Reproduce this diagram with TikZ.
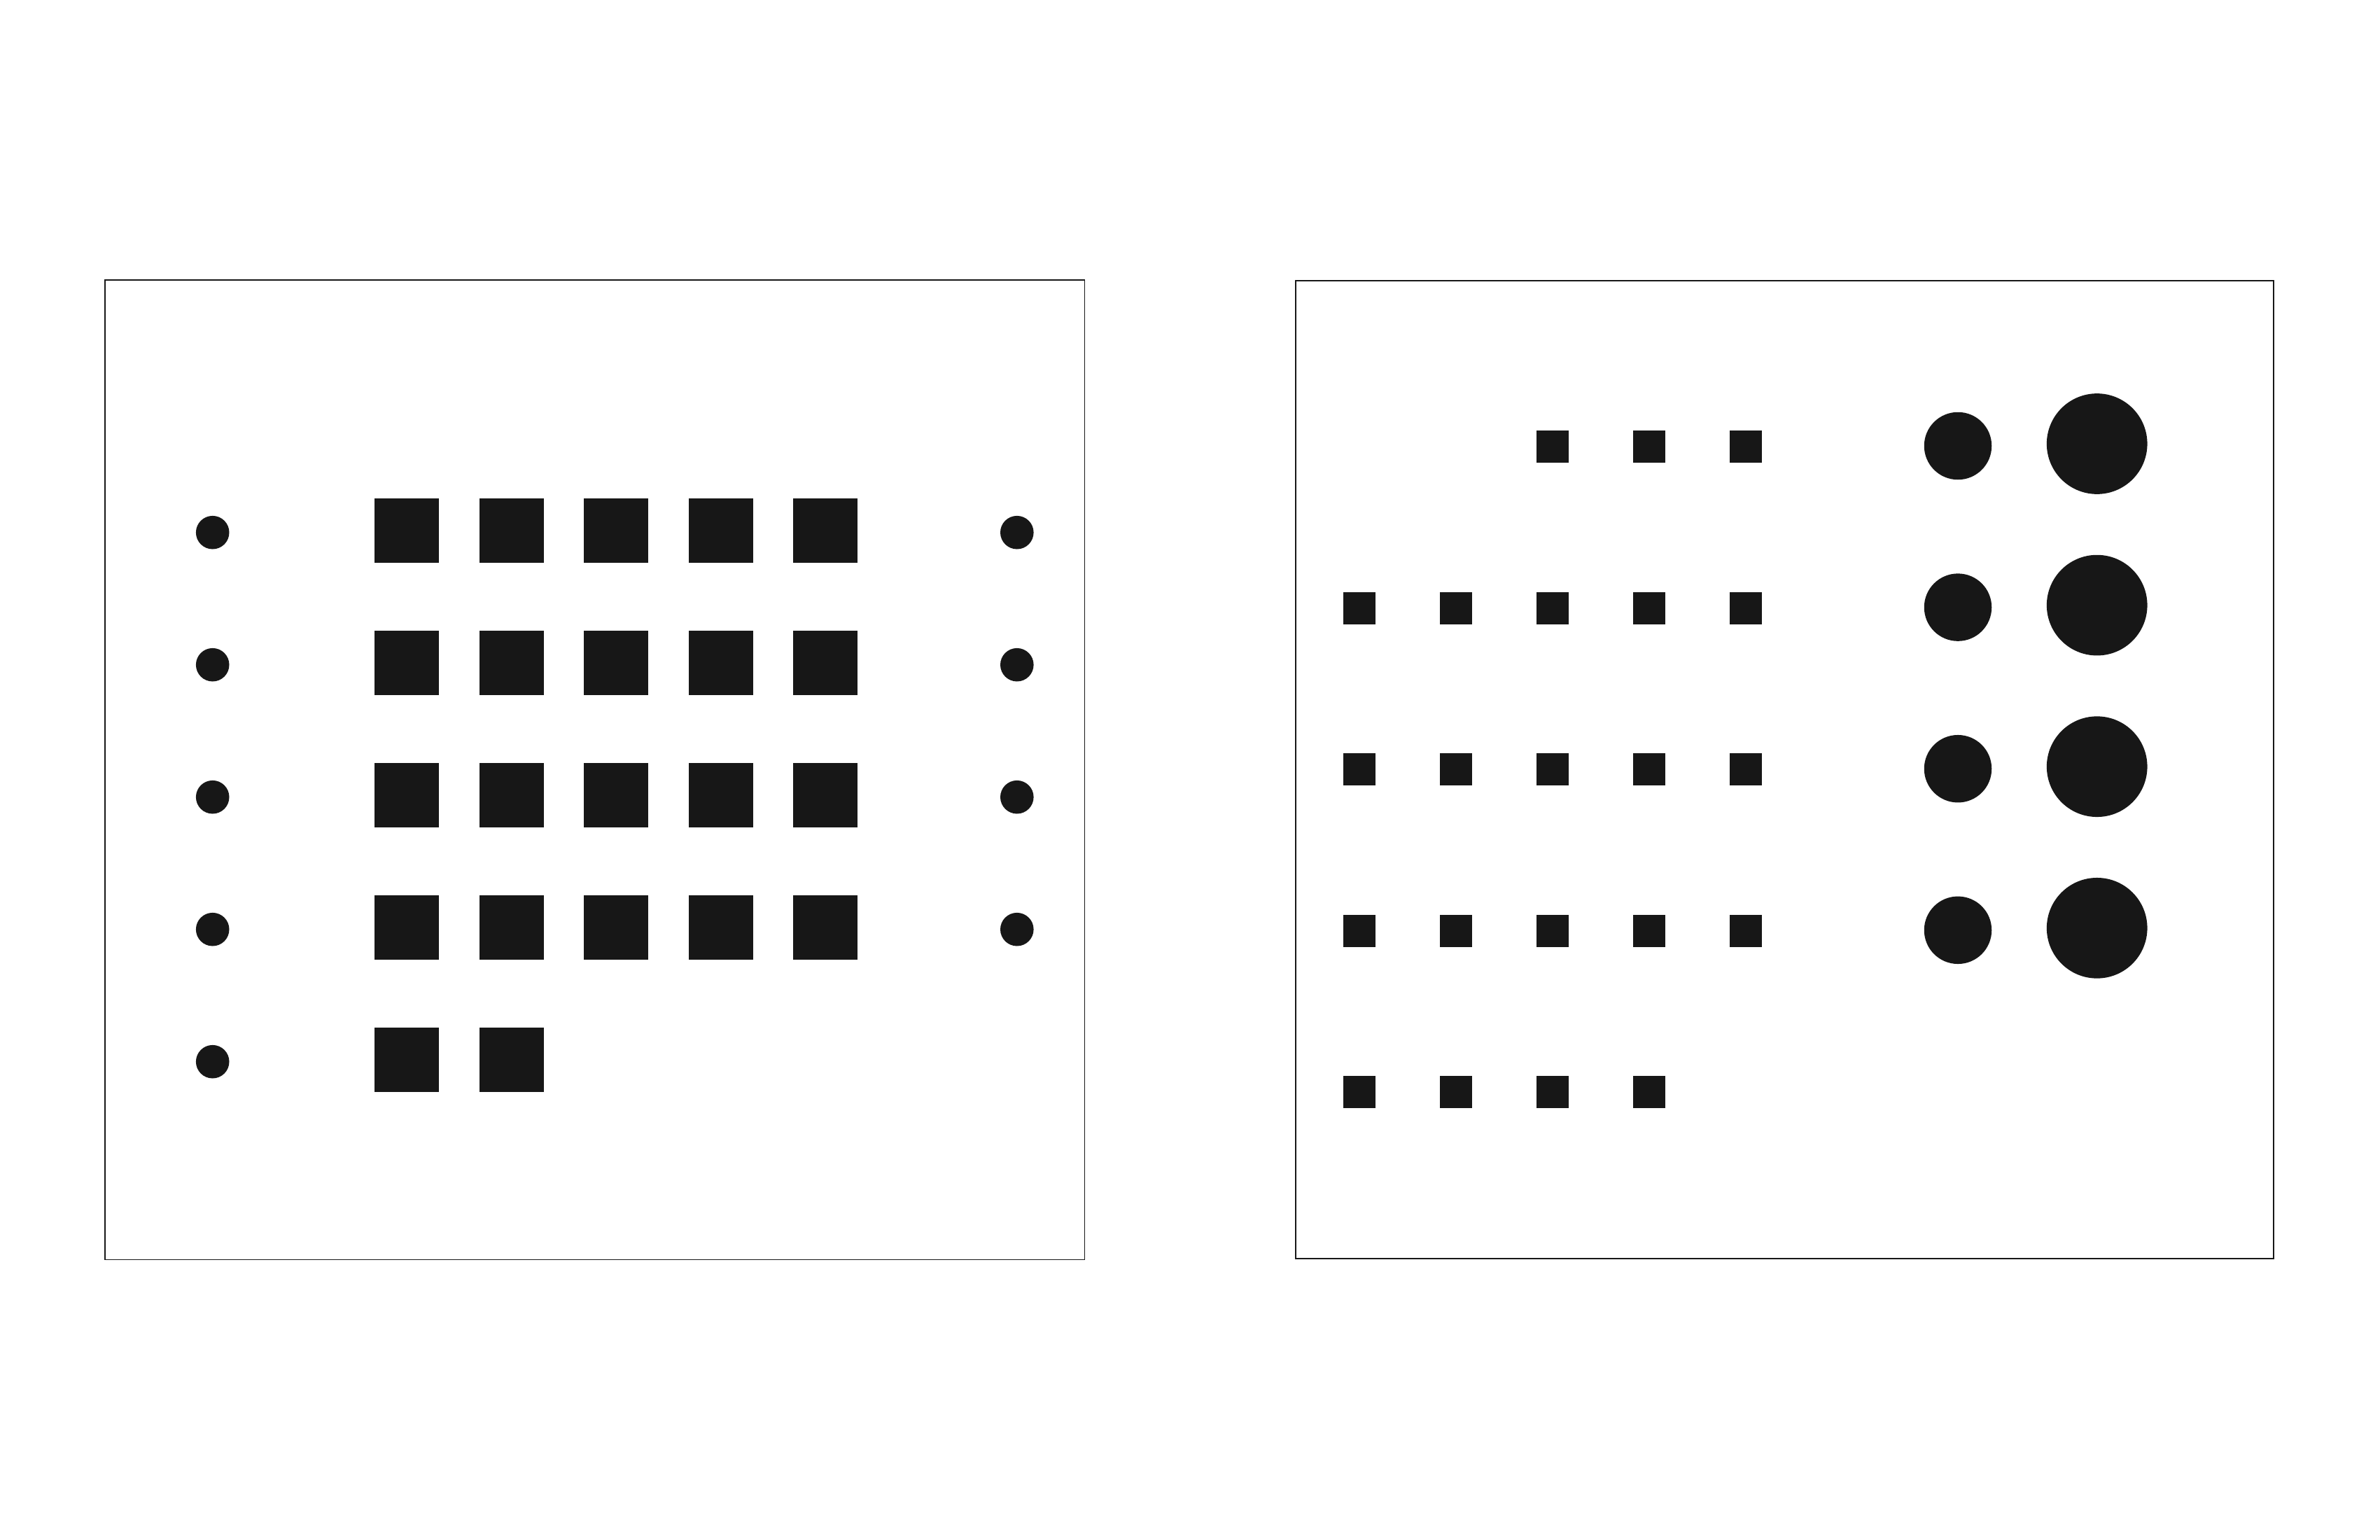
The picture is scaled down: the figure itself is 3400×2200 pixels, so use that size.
\documentclass[tikz,border=0pt]{standalone}
\definecolor{ink}{RGB}{23,23,23}
\begin{document}
\begin{tikzpicture}[x=1pt,y=-1pt,
  frame/.style={draw=ink,line width=1.1pt},
  bigsq/.style={rectangle,fill=ink,draw=none,inner sep=0pt,minimum size=92pt},
  smsq/.style={rectangle,fill=ink,draw=none,inner sep=0pt,minimum size=46pt},
  dotL/.style={circle,fill=ink,draw=none,inner sep=0pt,minimum size=47.6pt},
  dotM/.style={circle,fill=ink,draw=none,inner sep=0pt,minimum size=96.5pt},
  dotB/.style={circle,fill=ink,draw=none,inner sep=0pt,minimum size=143.7pt}]
\useasboundingbox (0,0) rectangle (3400,2200);
% frames
\draw[frame] (150,400) rectangle (1549.5,1799.5);
\draw[frame] (1851,401) rectangle (3248,1798);
% left panel: side dots
\foreach \r in {0,...,4}{
  \node[dotL] (lc-\r) at (303.7,{760.7+189*\r}) {};
}
\foreach \r in {0,...,3}{
  \node[dotL] (rc-\r) at (1452.8,{760.7+189*\r}) {};
}
% left panel: big squares
\foreach \r in {0,...,3}{
  \foreach \c in {0,...,4}{
    \node[bigsq] (bs-\r-\c) at ({581+149.6*\c},{758+189*\r}) {};
  }
}
\foreach \c in {0,1}{
  \node[bigsq] (bs-4-\c) at ({581+149.6*\c},{758+189*4}) {};
}
% right panel: small squares
\foreach \c in {2,3,4}{
  \node[smsq] (ss-0-\c) at ({1942+138*\c},638) {};
}
\foreach \r in {1,2,3}{
  \foreach \c in {0,...,4}{
    \node[smsq] (ss-\r-\c) at ({1942+138*\c},{638+230.6*\r}) {};
  }
}
\foreach \c in {0,...,3}{
  \node[smsq] (ss-4-\c) at ({1942+138*\c},{638+230.6*4}) {};
}
% right panel: circles
\foreach \r in {0,...,3}{
  \node[dotM] (mc-\r) at (2797,{637+230.6*\r}) {};
  \node[dotB] (bc-\r) at (2995.7,{634+230.6*\r}) {};
}
\end{tikzpicture}
\end{document}
